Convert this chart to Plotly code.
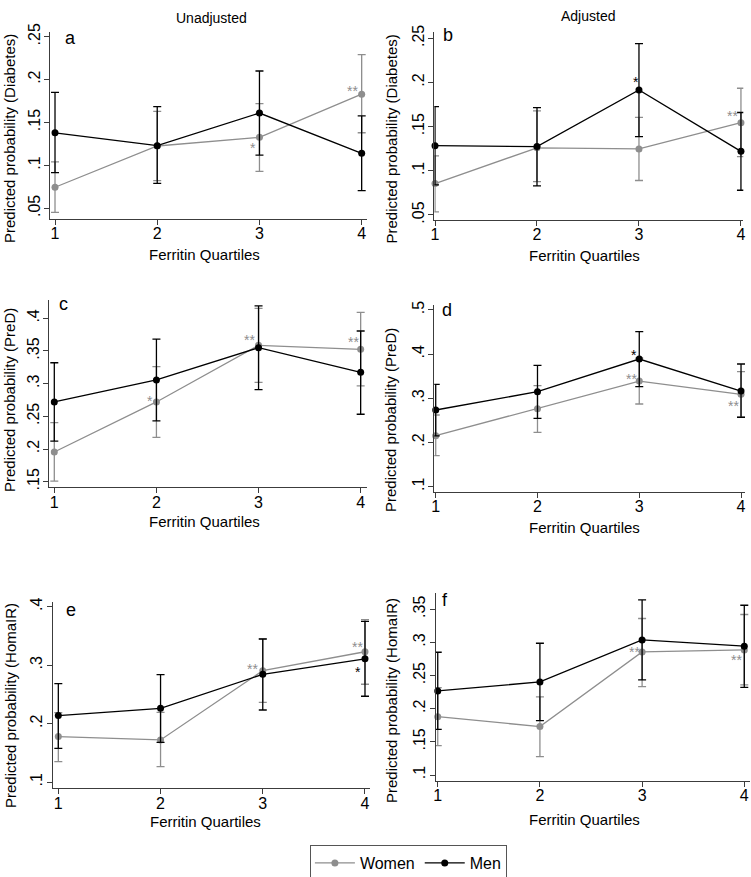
import plotly.graph_objects as go

W, H = 751, 877

quartiles = [1, 2, 3, 4]
x_tick_labels = ["1", "2", "3", "4"]

# ---- Panel a (Unadjusted, Diabetes)
a_women = [0.0745, 0.1226, 0.1327, 0.183]
a_women_lo = [0.0453, 0.0822, 0.093, 0.138]
a_women_hi = [0.104, 0.163, 0.172, 0.229]
a_men = [0.138, 0.123, 0.161, 0.114]
a_men_lo = [0.0916, 0.079, 0.112, 0.0706]
a_men_hi = [0.185, 0.1685, 0.210, 0.1576]

# ---- Panel b (Adjusted, Diabetes)
b_women = [0.0855, 0.126, 0.1248, 0.1545]
b_women_lo = [0.0535, 0.0878, 0.089, 0.116]
b_women_hi = [0.117, 0.1678, 0.1606, 0.1935]
b_men = [0.1285, 0.1274, 0.1915, 0.122]
b_men_lo = [0.084, 0.083, 0.1387, 0.078]
b_men_hi = [0.1726, 0.1715, 0.244, 0.166]

# ---- Panel c (Unadjusted, PreD)
c_women = [0.1954, 0.272, 0.3587, 0.3526]
c_women_lo = [0.151, 0.2179, 0.302, 0.2965]
c_women_hi = [0.2403, 0.326, 0.4153, 0.409]
c_men = [0.272, 0.3056, 0.355, 0.3174]
c_men_lo = [0.212, 0.243, 0.291, 0.2532]
c_men_hi = [0.332, 0.368, 0.419, 0.3806]

# ---- Panel d (Adjusted, PreD)
d_women = [0.2155, 0.2766, 0.339, 0.309]
d_women_lo = [0.1702, 0.223, 0.2872, 0.2585]
d_women_hi = [0.2623, 0.3287, 0.391, 0.3604]
d_men = [0.2736, 0.315, 0.389, 0.3166]
d_men_lo = [0.215, 0.2547, 0.3264, 0.257]
d_men_hi = [0.3317, 0.3747, 0.451, 0.3777]

# ---- Panel e (Unadjusted, HomaIR)
e_women = [0.178, 0.1723, 0.2907, 0.323]
e_women_lo = [0.1353, 0.1267, 0.2366, 0.2675]
e_women_hi = [0.219, 0.2195, 0.345, 0.378]
e_men = [0.2139, 0.2264, 0.2844, 0.311]
e_men_lo = [0.158, 0.1683, 0.2235, 0.247]
e_men_hi = [0.2685, 0.2839, 0.3448, 0.375]

# ---- Panel f (Adjusted, HomaIR)
f_women = [0.188, 0.173, 0.2856, 0.2886]
f_women_lo = [0.1443, 0.1277, 0.2333, 0.236]
f_women_hi = [0.2318, 0.2177, 0.336, 0.342]
f_men = [0.2268, 0.2403, 0.3037, 0.2942]
f_men_lo = [0.1689, 0.182, 0.2434, 0.232]
f_men_hi = [0.2851, 0.2987, 0.3641, 0.356]

# y ticks
a_yticks = [0.05, 0.1, 0.15, 0.2, 0.25]
a_yticklabels = [".05", ".1", ".15", ".2", ".25"]
c_yticks = [0.15, 0.2, 0.25, 0.3, 0.35, 0.4]
c_yticklabels = [".15", ".2", ".25", ".3", ".35", ".4"]
d_yticks = [0.1, 0.2, 0.3, 0.4, 0.5]
d_yticklabels = [".1", ".2", ".3", ".4", ".5"]
e_yticks = [0.1, 0.2, 0.3, 0.4]
e_yticklabels = [".1", ".2", ".3", ".4"]
f_yticks = [0.1, 0.15, 0.2, 0.25, 0.3, 0.35]
f_yticklabels = [".1", ".15", ".2", ".25", ".3", ".35"]

panel_letters = ["a", "b", "c", "d", "e", "f"]
y_titles = ["Predicted probability (Diabetes)", "Predicted probability (Diabetes)",
            "Predicted probability (PreD)", "Predicted probability (PreD)",
            "Predicted probability (HomaIR)", "Predicted probability (HomaIR)"]
x_title = "Ferritin Quartiles"
column_titles = ["Unadjusted", "Adjusted"]
series_names = ["Women", "Men"]

# significance marks: (panel index, series index, quartile index, text)
stars = [
    (0, 0, 2, "*"), (0, 0, 3, "**"),
    (1, 1, 2, "*"), (1, 0, 3, "**"),
    (2, 0, 1, "*"), (2, 0, 2, "**"), (2, 0, 3, "**"),
    (3, 1, 2, "*"), (3, 0, 2, "**"), (3, 0, 3, "**"),
    (4, 0, 2, "**"), (4, 0, 3, "**"), (4, 1, 3, "*"),
    (5, 0, 2, "**"), (5, 0, 3, "**"),
]

# ---------------- layout / style (pixel geometry) ----------------
star_offsets = [(-6.5, 7.7), (-8.7, -6),
                (-3.3, -10.7), (-8, -9.7),
                (-6.4, -3.7), (-9.5, -8.6), (-7.4, -10),
                (-5, -7.4), (-8, -5), (-7.7, 9),
                (-10.4, -4.6), (-7.7, -7.7), (-6.7, 10.6),
                (-7.8, -2.7), (-7.6, 7.3)]

geom = [
    # x px domain, x range, y px domain (top, bottom), y range
    dict(xp=(50, 367), xr=(0.951, 4.052), yp=(31.7, 219), yr=(0.0375, 0.2558)),
    dict(xp=(434.3, 743.3), xr=(0.993, 4.023), yp=(31.7, 220), yr=(0.0443, 0.2575)),
    dict(xp=(49.3, 366.7), xr=(0.951, 4.059), yp=(300, 487.3), yr=(0.1414, 0.428)),
    dict(xp=(434.3, 745), xr=(0.986, 4.039), yp=(305, 491.7), yr=(0.0887, 0.5113)),
    dict(xp=(52.7, 370), xr=(0.945, 4.049), yp=(601.7, 788.3), yr=(0.0897, 0.4085)),
    dict(xp=(435.7, 750), xr=(0.98, 4.056), yp=(593.3, 780.7), yr=(0.0914, 0.374)),
]
letter_pos = [(70.7, 38), (447.7, 35), (63.3, 304), (446.7, 310), (70.7, 610), (445, 600)]
ytitle_pos = [(10, 139), (391, 139.5), (10, 400), (391, 420), (10, 706), (391, 701)]
xtitle_pos = [(204, 254), (584.3, 255), (204, 521), (584.3, 527.3), (205, 821), (584.3, 819)]
coltitle_pos = [(211.7, 18.3), (588.3, 16)]

WOMEN_C = "#8e8e8e"
MEN_C = "#000000"
AX_C = "#3c3c3c"
FONT = "Liberation Sans, Arial, sans-serif"

panel_data = [
    (a_women, a_women_lo, a_women_hi, a_men, a_men_lo, a_men_hi, a_yticks, a_yticklabels),
    (b_women, b_women_lo, b_women_hi, b_men, b_men_lo, b_men_hi, a_yticks, a_yticklabels),
    (c_women, c_women_lo, c_women_hi, c_men, c_men_lo, c_men_hi, c_yticks, c_yticklabels),
    (d_women, d_women_lo, d_women_hi, d_men, d_men_lo, d_men_hi, d_yticks, d_yticklabels),
    (e_women, e_women_lo, e_women_hi, e_men, e_men_lo, e_men_hi, e_yticks, e_yticklabels),
    (f_women, f_women_lo, f_women_hi, f_men, f_men_lo, f_men_hi, f_yticks, f_yticklabels),
]

fig = go.Figure()
layout = dict(
    width=W, height=H,
    margin=dict(l=0, r=0, t=0, b=0, autoexpand=False),
    paper_bgcolor="white", plot_bgcolor="white",
    font=dict(family=FONT, size=15, color="black"),
    showlegend=True,
    legend=dict(orientation="h", x=408.4 / W, y=1 - 863 / H, xanchor="center", yanchor="middle",
                bordercolor="#555555", borderwidth=1, font=dict(size=16, family=FONT),
                itemwidth=40, tracegroupgap=0),
)

annotations = []

def px_x(p):
    return p / W

def px_y(p):
    return 1 - p / H

for i, (wp, wl, wh, mp, ml, mh, yt, ytl) in enumerate(panel_data):
    n = i + 1
    xa = "x" if n == 1 else f"x{n}"
    ya = "y" if n == 1 else f"y{n}"
    g = geom[i]
    for s, (pt, lo, hi, col, name) in enumerate([(wp, wl, wh, WOMEN_C, series_names[0]),
                                                 (mp, ml, mh, MEN_C, series_names[1])]):
        fig.add_trace(go.Scatter(
            x=quartiles, y=pt, mode="lines+markers", name=name,
            xaxis=xa, yaxis=ya, showlegend=(i == 0), legendgroup=name,
            line=dict(color=col, width=1.3),
            marker=dict(color=col, size=7),
            error_y=dict(type="data", symmetric=False,
                         array=[h - p for h, p in zip(hi, pt)],
                         arrayminus=[p - l for p, l in zip(pt, lo)],
                         color=col, thickness=1.3, width=4),
            cliponaxis=False,
        ))
    axis_common = dict(showline=True, linecolor=AX_C, linewidth=1, ticks="outside",
                       ticklen=5, tickcolor=AX_C, tickwidth=1, showgrid=False,
                       zeroline=False, automargin=False,
                       tickfont=dict(size=16, family=FONT, color="black"))
    layout["xaxis" if n == 1 else f"xaxis{n}"] = dict(
        domain=[px_x(g["xp"][0]), px_x(g["xp"][1])], range=list(g["xr"]),
        anchor=ya, tickvals=quartiles, ticktext=x_tick_labels,
        ticklabelstandoff=-5, **axis_common)
    layout["yaxis" if n == 1 else f"yaxis{n}"] = dict(
        domain=[px_y(g["yp"][1]), px_y(g["yp"][0])], range=list(g["yr"]),
        anchor=xa, tickvals=yt, ticktext=ytl, tickangle=-90,
        ticklabelstandoff=-2, **axis_common)

    annotations.append(dict(text=panel_letters[i], x=px_x(letter_pos[i][0]), y=px_y(letter_pos[i][1]),
                            xref="paper", yref="paper", showarrow=False,
                            font=dict(size=18, family=FONT), xanchor="center", yanchor="middle"))
    annotations.append(dict(text=y_titles[i], x=px_x(ytitle_pos[i][0]), y=px_y(ytitle_pos[i][1]),
                            xref="paper", yref="paper", showarrow=False, textangle=-90,
                            font=dict(size=15, family=FONT), xanchor="center", yanchor="middle"))
    annotations.append(dict(text=x_title, x=px_x(xtitle_pos[i][0]), y=px_y(xtitle_pos[i][1]),
                            xref="paper", yref="paper", showarrow=False,
                            font=dict(size=15, family=FONT), xanchor="center", yanchor="middle"))

for k, (pi, si, qi, txt) in enumerate(stars):
    n = pi + 1
    pd_ = panel_data[pi]
    yval = pd_[0][qi] if si == 0 else pd_[3][qi]
    dx, dy = star_offsets[k]
    annotations.append(dict(text=txt, x=quartiles[qi], y=yval,
                            xref="x" if n == 1 else f"x{n}", yref="y" if n == 1 else f"y{n}",
                            showarrow=False, xshift=dx, yshift=-(dy + 3),
                            font=dict(size=14, family=FONT, color=WOMEN_C if si == 0 else MEN_C),
                            xanchor="center", yanchor="middle"))

for j, t in enumerate(column_titles):
    annotations.append(dict(text=t, x=px_x(coltitle_pos[j][0]), y=px_y(coltitle_pos[j][1]),
                            xref="paper", yref="paper", showarrow=False,
                            font=dict(size=14, family=FONT), xanchor="center", yanchor="middle"))

layout["annotations"] = annotations
fig.update_layout(**layout)
fig.write_html("out.html", config={"displayModeBar": False},
               post_script="document.body.style.margin='0';document.body.style.padding='0';"
                           "document.documentElement.style.overflow='hidden';")
